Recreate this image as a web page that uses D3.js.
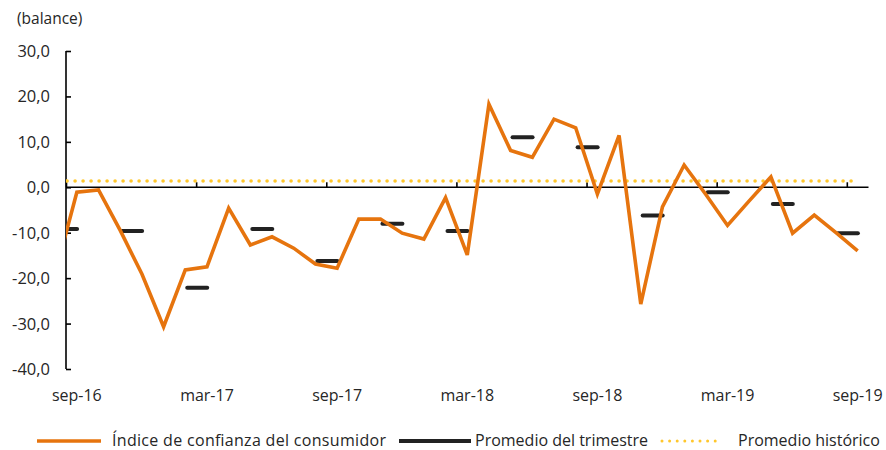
<!DOCTYPE html>
<html>
<head>
<meta charset="utf-8">
<script src="https://cdn.jsdelivr.net/npm/d3@7"></script>
<style>
  body { margin: 0; background: #fff; }
  svg text { font-family: "Open Sans", Lato, sans-serif; fill: #262626; }
</style>
</head>
<body>
<svg id="svg" width="886" height="450"></svg>
<script>
// monthly index: first value (ago-16) is outside the axis and gets clipped
const months = ["ago-16", "sep-16", "oct-16", "nov-16", "dic-16", "ene-17", "feb-17", "mar-17",
  "abr-17", "may-17", "jun-17", "jul-17", "ago-17", "sep-17", "oct-17", "nov-17", "dic-17",
  "ene-18", "feb-18", "mar-18", "abr-18", "may-18", "jun-18", "jul-18", "ago-18", "sep-18",
  "oct-18", "nov-18", "dic-18", "ene-19", "feb-19", "mar-19", "abr-19", "may-19", "jun-19",
  "jul-19", "ago-19", "sep-19"];
const confianza = [-19.1, -1.1, -0.6, -9.5, -19.1, -30.7, -18.2, -17.5,
  -4.6, -12.7, -10.9, -13.4, -16.9, -17.8, -7.0, -7.0, -10.1,
  -11.4, -2.3, -14.9, 18.3, 8.1, 6.6, 15.0, 13.1, -1.5,
  11.4, -25.7, -4.3, 4.9, -1.6, -8.4, -3.0, 2.3, -10.1,
  -6.1, -10.0, -14.0];

const quarters = ["III-16", "IV-16", "I-17", "II-17", "III-17", "IV-17", "I-18",
  "II-18", "III-18", "IV-18", "I-19", "II-19", "III-19"];
const quarterMid = ["ago-16", "nov-16", "feb-17", "may-17", "ago-17", "nov-17", "feb-18",
  "may-18", "ago-18", "nov-18", "feb-19", "may-19", "ago-19"];
const promTrimestre = [-9.2, -9.6, -22.1, -9.2, -16.2, -8.0, -9.6, 11.0, 8.8, -6.2, -1.1, -3.7, -10.1];

const promHistorico = 1.4;

const tickLabels = ["sep-16", "mar-17", "sep-17", "mar-18", "sep-18", "mar-19", "sep-19"];
const yTicks = [30, 20, 10, 0, -10, -20, -30, -40];

const idx = (m) => months.indexOf(m) - 1; // sep-16 = 0

const x = d3.scaleLinear().domain([-0.5, 36.5]).range([66, 868.5]);
const y = d3.scaleLinear().domain([-40, 30]).range([369, 51]);
const fmt = (v) => d3.format(".1f")(v).replace(".", ",").replace("−", "-");

const svg = d3.select("#svg");

svg.append("defs").append("clipPath").attr("id", "plot")
  .append("rect")
  .attr("x", x(-0.5)).attr("y", 0)
  .attr("width", x(36.5) - x(-0.5)).attr("height", 450);

// title
svg.append("text")
  .attr("x", 17).attr("y", 24)
  .style("font-size", "15.5px")
  .text("(balance)");

// y axis
const yAxis = svg.append("g").attr("transform", "translate(" + x(-0.5) + ",0)")
  .call(d3.axisRight(y).tickValues(yTicks).tickSize(5).tickFormat(""));
yAxis.select(".domain").attr("stroke", "#000").attr("stroke-width", 1.6).attr("d", "M0," + y(30) + "V" + y(-40));
yAxis.selectAll(".tick line").attr("stroke", "#000").attr("stroke-width", 1.6);

svg.append("g").selectAll("text")
  .data(yTicks)
  .join("text")
  .attr("x", 50)
  .attr("y", (d) => y(d) + 6)
  .attr("text-anchor", "end")
  .style("font-size", "16.5px")
  .text((d) => fmt(d));

// x axis at zero
const xAxis = svg.append("g").attr("transform", "translate(0," + y(0) + ")")
  .call(d3.axisTop(x).tickValues(d3.range(-0.5, 37, 6)).tickSize(5).tickFormat(""));
xAxis.select(".domain").attr("stroke", "#000").attr("stroke-width", 1.6).attr("d", "M" + x(-0.5) + ",0H" + x(36.5));
xAxis.selectAll(".tick line").attr("stroke", "#000").attr("stroke-width", 1.6);

svg.append("g").selectAll("text")
  .data(tickLabels)
  .join("text")
  .attr("x", (d) => x(idx(d)))
  .attr("y", 401)
  .attr("text-anchor", "middle")
  .style("font-size", "16px")
  .text((d) => d);

const plot = svg.append("g").attr("clip-path", "url(#plot)");

// historic average, dotted
plot.append("line")
  .attr("x1", x(-0.45)).attr("x2", x(35.85))
  .attr("y1", y(promHistorico)).attr("y2", y(promHistorico))
  .attr("stroke", "#FFC72C")
  .attr("stroke-width", 3.6)
  .attr("stroke-linecap", "round")
  .attr("stroke-dasharray", "0 8");

// quarterly averages as short dashes
plot.selectAll(".q")
  .data(promTrimestre)
  .join("line")
  .attr("class", "q")
  .attr("x1", (d, i) => x(idx(quarterMid[i]) + 0.55) - 10)
  .attr("x2", (d, i) => x(idx(quarterMid[i]) + 0.55) + 10)
  .attr("y1", (d) => y(d))
  .attr("y2", (d) => y(d))
  .attr("stroke", "#222")
  .attr("stroke-width", 4)
  .attr("stroke-linecap", "round");

// consumer confidence
plot.append("path")
  .datum(confianza)
  .attr("fill", "none")
  .attr("stroke", "#E6740E")
  .attr("stroke-width", 3.6)
  .attr("stroke-linejoin", "miter")
  .attr("d", d3.line().x((d, i) => x(i - 1)).y((d) => y(d)));

// legend
const legend = svg.append("g");
legend.append("line")
  .attr("x1", 37).attr("x2", 101).attr("y1", 441).attr("y2", 441)
  .attr("stroke", "#E6740E").attr("stroke-width", 3.6);
legend.append("text").attr("x", 112).attr("y", 446).style("font-size", "16px")
  .attr("textLength", 274).attr("lengthAdjust", "spacing")
  .text("Índice de confianza del consumidor");
legend.append("line")
  .attr("x1", 399).attr("x2", 471).attr("y1", 441).attr("y2", 441)
  .attr("stroke", "#222").attr("stroke-width", 4);
legend.append("text").attr("x", 475).attr("y", 446).style("font-size", "16px")
  .text("Promedio del trimestre");
legend.append("line")
  .attr("x1", 662).attr("x2", 716).attr("y1", 441).attr("y2", 441)
  .attr("stroke", "#FFC72C").attr("stroke-width", 3)
  .attr("stroke-linecap", "round").attr("stroke-dasharray", "0 7.6");
legend.append("text").attr("x", 738).attr("y", 446).style("font-size", "16px")
  .text("Promedio histórico");
</script>
</body>
</html>
